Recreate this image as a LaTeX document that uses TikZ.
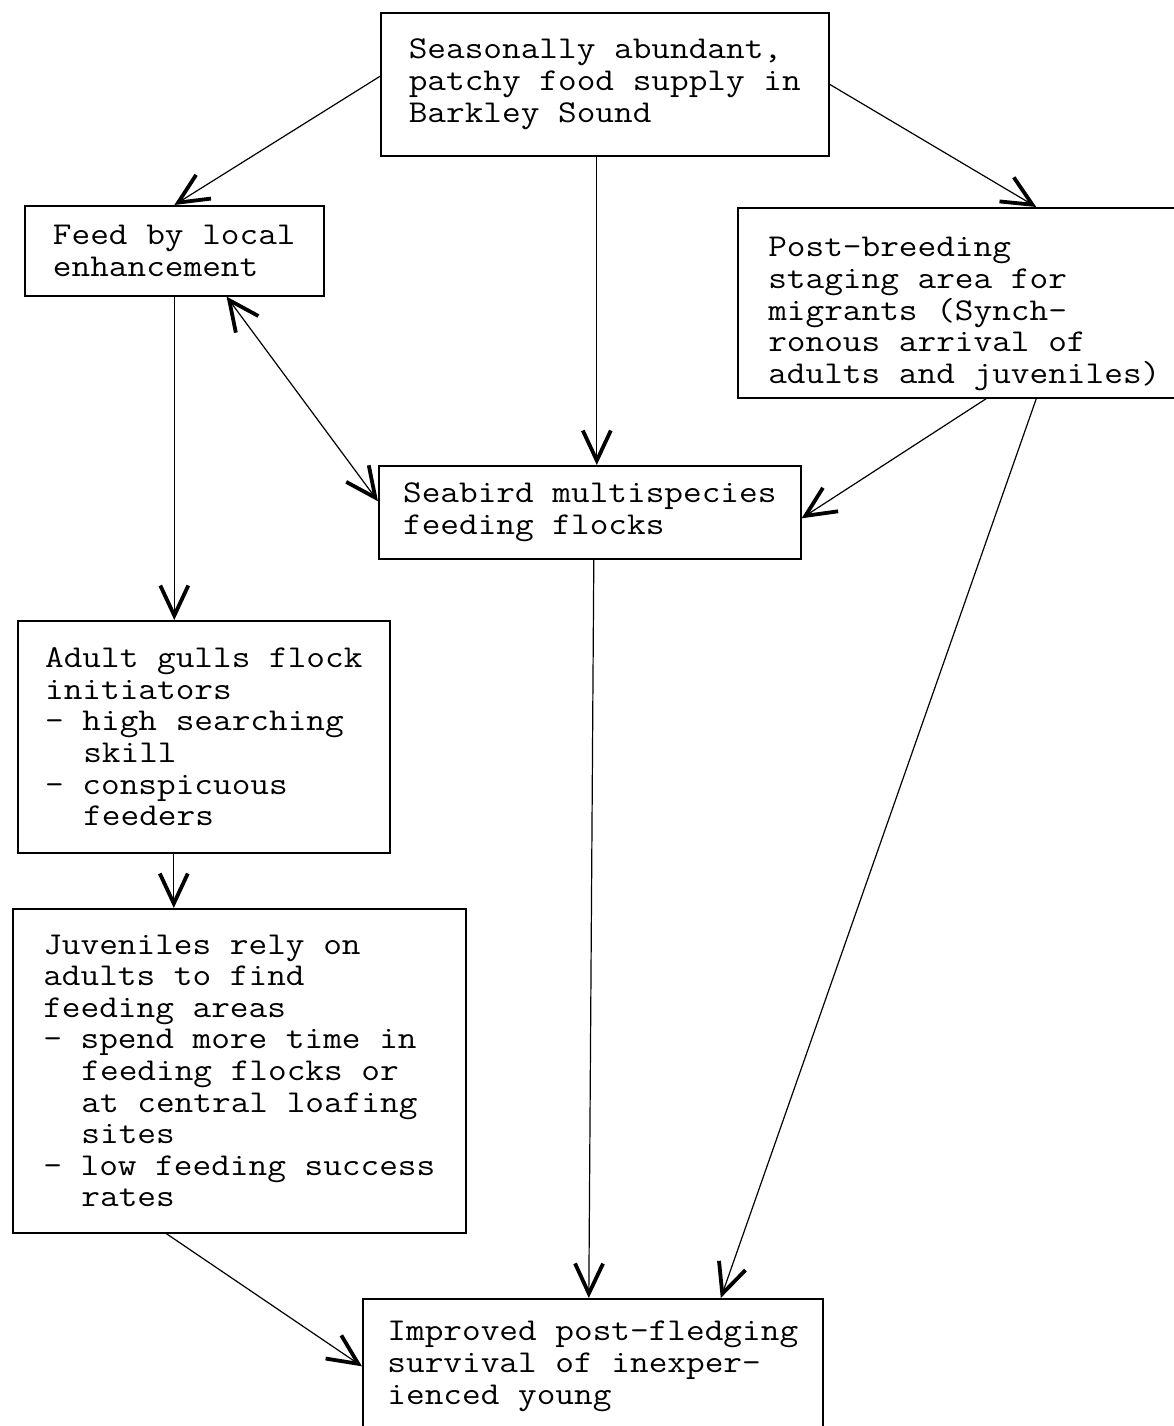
\documentclass[tikz,border=0pt]{standalone}
\usepackage{fontspec}
\setmonofont{Latin Modern Mono}[FakeStretch=1.14]
\usetikzlibrary{arrows.meta,positioning}
\newcommand\indt{\hspace*{1.2em}}

\begin{document}
\begin{tikzpicture}[x=1pt, y=-1pt,
    box/.style={draw, line width=1.6pt, inner sep=0pt, align=left, anchor=north west,
        font=\ttfamily\fontsize{31.8pt}{31.6pt}\selectfont},
    arr/.style={line width=1.2pt, -{Straight Barb[length=30pt,width=28pt,line width=3.8pt]}},
    arrboth/.style={line width=1.2pt, {Straight Barb[length=30pt,width=28pt,line width=3.8pt]}-{Straight Barb[length=30pt,width=28pt,line width=3.8pt]}}]
        \clip (0,0) rectangle (1174,1426);
        \node[box, minimum width=448pt, minimum height=143pt] (food) at (380,12) {Seasonally abundant,\\patchy food supply in\\Barkley Sound};
        \node[box, minimum width=299pt, minimum height=90pt] (feed) at (24,205) {Feed by local\\enhancement};
        \node[box, minimum width=453pt, minimum height=190pt] (staging) at (737,207) {\rule{0pt}{42pt}Post-breeding\\staging area for\\migrants (Synch-\\ronous arrival of\\adults and juveniles)};
        \node[box, minimum width=422pt, minimum height=93pt] (flocks) at (378,465) {Seabird multispecies\\feeding flocks};
        \node[box, minimum width=372pt, minimum height=232pt] (gulls) at (17,620) {Adult gulls flock\\initiators\\- high searching\\\indt skill\\- conspicuous\\\indt feeders};
        \node[box, minimum width=453pt, minimum height=324pt] (juv) at (12,908) {Juveniles rely on\\adults to find\\feeding areas\\- spend more time in\\\indt feeding flocks or\\\indt at central loafing\\\indt sites\\- low feeding success\\\indt rates};
        \node[box, minimum width=460pt, minimum height=135pt] (survival) at (362,1298) {Improved post-fledging\\survival of inexper-\\ienced young};
        \draw[arr] ([yshift=8]food.west) -- (feed.north);
        \draw[arr] ([xshift=-8]food.south) -- ([xshift=-8]food.south |- flocks.north);
        \draw[arr] (food.east) -- ([xshift=72]staging.north);
        \draw[arr] (feed.south) -- (feed.south |- gulls.north);
        \draw[arrboth] ([xshift=-98]feed.south east) -- ([yshift=11]flocks.west);
        \draw[arr] ([xshift=22]staging.south) -- ([yshift=-6]flocks.east);
        \draw[arr] ([xshift=-30]gulls.south) -- ([xshift=-30]gulls.south |- juv.north);
        \draw[arr] ([xshift=4]flocks.south) -- ([xshift=-4]survival.north);
        \draw[arr] ([xshift=72]staging.south) -- ([xshift=128]survival.north);
        \draw[arr] ([xshift=-73]juv.south) -- (survival.west);
    \end{tikzpicture}
\end{document}
